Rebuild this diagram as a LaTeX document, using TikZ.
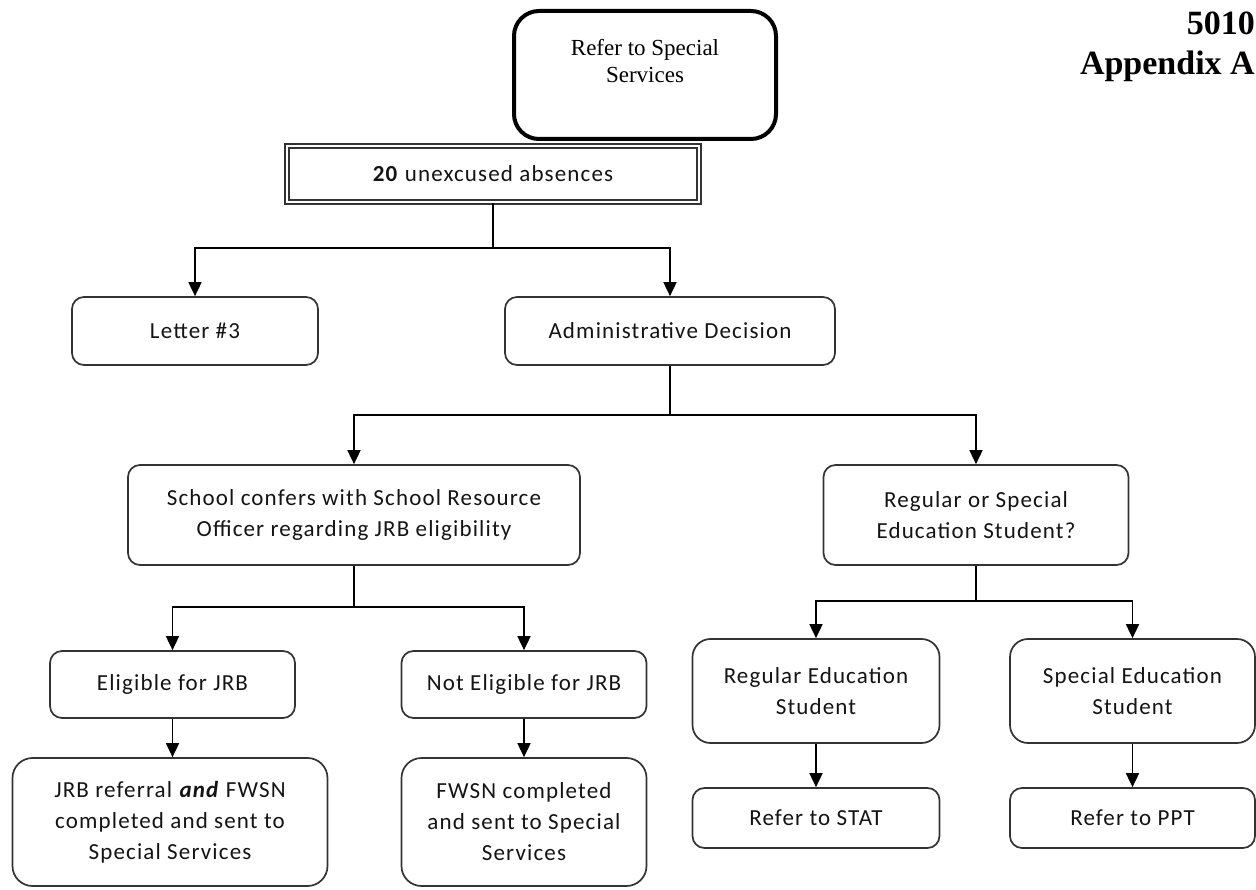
\documentclass[tikz,border=0pt]{standalone}
\usepackage{fontspec}
\usetikzlibrary{arrows.meta}
\newfontfamily\boxfont[LetterSpace=5]{Carlito}
\newfontfamily\seriffont{Liberation Serif}
\begin{document}
\begin{tikzpicture}[x=1pt,y=-1pt,
  flowbox/.style={draw=black!80, line width=1.7pt, rounded corners=12pt, fill=white,
    font=\boxfont\fontsize{23}{31}\selectfont, align=center, inner sep=0pt, text=black!92},
  bigbox/.style={flowbox, rounded corners=20pt},
  arr/.style={-{Triangle[width=13pt,length=14pt]}, line width=1.7pt},
  conn/.style={line width=1.7pt}
]
\useasboundingbox (0,0) rectangle (1256,890);

% header
\node[anchor=north east, align=right, inner sep=0pt,
      font=\seriffont\bfseries\fontsize{34}{40}\selectfont] (hdr) at (1255,12) {5010\\Appendix A};

% refer to special services box
\node[draw=black, line width=4pt, rounded corners=25pt, minimum width=262pt, minimum height=128pt,
      inner sep=0pt] (refer) at (645,75) {};
\node[font=\seriffont\fontsize{23}{27}\selectfont, align=center, inner sep=0pt] (refertxt) at (645,61) {Refer to Special\\Services};

% top box
\node[draw=black!80, double=white, double distance=2.5pt, line width=1.3pt, fill=white,
      minimum width=412pt, minimum height=56pt, inner sep=0pt,
      font=\boxfont\fontsize{23}{30}\selectfont, text=black!92] (abs) at (493,174) {\textbf{20} unexcused absences};

\node[flowbox, minimum width=246pt, minimum height=68pt] (letter) at (195,331) {Letter \#3};
\node[flowbox, minimum width=330pt, minimum height=68pt] (admin) at (670,331) {Administrative Decision};

\node[flowbox, minimum width=452pt, minimum height=100pt] (school) at (354,515) {School confers with School Resource\\Officer regarding JRB eligibility};
\node[flowbox, minimum width=305pt, minimum height=100pt] (regspec) at (976,515) {Regular or Special\\Education Student?};

\node[flowbox, minimum width=245pt, minimum height=67pt] (elig) at (172.5,684.5) {Eligible for JRB};
\node[flowbox, minimum width=245pt, minimum height=67pt] (notelig) at (524,684.5) {Not Eligible for JRB};

\node[bigbox, minimum width=315pt, minimum height=128pt] (jrb) at (170,822) {JRB referral \textbf{\textit{and}} FWSN\\completed and sent to\\Special Services};
\node[bigbox, minimum width=245pt, minimum height=128pt] (fwsn) at (524,822) {FWSN completed\\and sent to Special\\Services};

\node[flowbox, rounded corners=18pt, minimum width=247pt, minimum height=104pt] (regedu) at (816,691) {Regular Education\\Student};
\node[flowbox, rounded corners=18pt, minimum width=245pt, minimum height=104pt] (specedu) at (1132.5,691) {Special Education\\Student};

\node[flowbox, minimum width=247pt, minimum height=60pt] (stat) at (816,818) {Refer to STAT};
\node[flowbox, minimum width=245pt, minimum height=60pt] (ppt) at (1132.5,818) {Refer to PPT};

% junctions
\coordinate (j1) at (493,248);
\coordinate (j2) at (670,415);
\coordinate (j3) at (354,607);
\coordinate (j4) at (976,601);

\draw[conn] (abs.south) -- (j1);
\draw[arr] (j1) -| (letter.north);
\draw[arr] (j1) -| (admin.north);

\draw[conn] (admin.south) -- (j2);
\draw[arr] (j2) -| (school.north);
\draw[arr] (j2) -| (regspec.north);

\draw[conn] (school.south) -- (j3);
\draw[arr] (j3) -| (elig.north);
\draw[arr] (j3) -| (notelig.north);

\draw[conn] (regspec.south) -- (j4);
\draw[arr] (j4) -| (regedu.north);
\draw[arr] (j4) -| (specedu.north);

\draw[arr] (elig.south) -- (elig.south |- jrb.north);
\draw[arr] (notelig.south) -- (fwsn.north);
\draw[arr] (regedu.south) -- (stat.north);
\draw[arr] (specedu.south) -- (ppt.north);
\end{tikzpicture}
\end{document}
